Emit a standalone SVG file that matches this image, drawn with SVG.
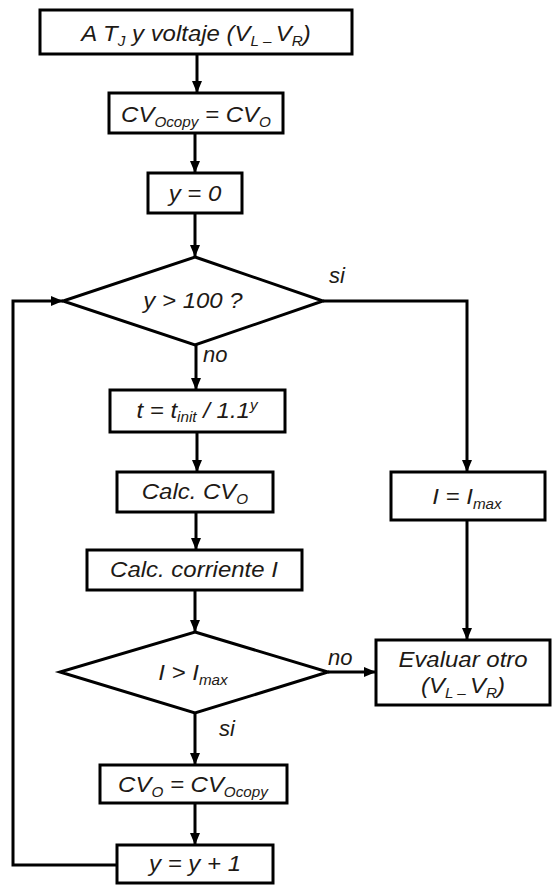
<svg xmlns="http://www.w3.org/2000/svg" width="553" height="886" viewBox="0 0 553 886">
  <style>
    .box { fill: #ffffff; stroke: #000000; stroke-width: 3; }
    .wire { fill: none; stroke: #000000; stroke-width: 3; }
    .lbl { font-family: "Liberation Sans", Arial, sans-serif; font-style: italic; font-size: 22px; fill: #1e1a16; text-anchor: middle; }
    .tag { font-family: "Liberation Sans", Arial, sans-serif; font-style: italic; font-size: 22px; fill: #1e1a16; }
    .sub { font-size: 14px; }
  </style>
  <defs>
    <marker id="arrow" markerUnits="userSpaceOnUse" markerWidth="12" markerHeight="12" viewBox="0 0 12 12" refX="12" refY="6" orient="auto">
      <path d="M0,1 L12,6 L0,11 Z" fill="#000000"/>
    </marker>
  </defs>

  <rect width="553" height="886" fill="#ffffff"/>

  <!-- connectors -->
  <g id="connectors">
    <line class="wire" x1="197" y1="54" x2="197" y2="93" marker-end="url(#arrow)"/>
    <line class="wire" x1="195" y1="133" x2="195" y2="173" marker-end="url(#arrow)"/>
    <line class="wire" x1="195" y1="213" x2="195" y2="257" marker-end="url(#arrow)"/>
    <polyline class="wire" points="323,301 467,301 467,472" marker-end="url(#arrow)"/>
    <line class="wire" x1="196" y1="345" x2="196" y2="390" marker-end="url(#arrow)"/>
    <line class="wire" x1="197" y1="432" x2="197" y2="472" marker-end="url(#arrow)"/>
    <line class="wire" x1="196" y1="512" x2="196" y2="550" marker-end="url(#arrow)"/>
    <line class="wire" x1="195" y1="590" x2="195" y2="632" marker-end="url(#arrow)"/>
    <line class="wire" x1="328" y1="672" x2="376" y2="672" marker-end="url(#arrow)"/>
    <line class="wire" x1="195" y1="713" x2="195" y2="765" marker-end="url(#arrow)"/>
    <line class="wire" x1="195" y1="803" x2="195" y2="845" marker-end="url(#arrow)"/>
    <line class="wire" x1="467" y1="520" x2="467" y2="640" marker-end="url(#arrow)"/>
    <polyline class="wire" points="117,865 13,865 13,301 63,301" marker-end="url(#arrow)"/>
    <text class="tag" x="329" y="283">si</text>
    <text class="tag" x="203" y="362">no</text>
    <text class="tag" x="328" y="665">no</text>
    <text class="tag" x="219" y="736">si</text>
  </g>

  <g id="start">
    <rect class="box" x="40" y="10" width="312" height="44"/>
    <text class="lbl" transform="translate(196 41) scale(1.09 1)">A T<tspan class="sub" dy="5">J</tspan><tspan dy="-5"> y voltaje (V</tspan><tspan class="sub" dy="5">L – </tspan><tspan dy="-5">V</tspan><tspan class="sub" dy="5">R</tspan><tspan dy="-5">)</tspan></text>
  </g>

  <g id="copy-cv">
    <rect class="box" x="109" y="93" width="174" height="40"/>
    <text class="lbl" transform="translate(196 122) scale(1.09 1)">CV<tspan class="sub" dy="5">Ocopy</tspan><tspan dy="-5"> = CV</tspan><tspan class="sub" dy="5">O</tspan></text>
  </g>

  <g id="init-y">
    <rect class="box" x="148" y="173" width="94" height="40"/>
    <text class="lbl" transform="translate(195 201) scale(1.09 1)">y = 0</text>
  </g>

  <g id="check-y">
    <polygon class="box" points="195,257 323,301 195,345 63,301"/>
    <text class="lbl" transform="translate(193 308) scale(1.09 1)">y &gt; 100 ?</text>
  </g>

  <g id="calc-t">
    <rect class="box" x="110" y="390" width="175" height="42"/>
    <text class="lbl" transform="translate(197 418) scale(1.09 1)">t = t<tspan class="sub" dy="4">init</tspan><tspan dy="-4"> / 1.1</tspan><tspan class="sub" dy="-8">y</tspan></text>
  </g>

  <g id="calc-cv">
    <rect class="box" x="117" y="472" width="156" height="40"/>
    <text class="lbl" transform="translate(195 499) scale(1.09 1)">Calc. CV<tspan class="sub" dy="5">O</tspan></text>
  </g>

  <g id="calc-i">
    <rect class="box" x="87" y="550" width="215" height="40"/>
    <text class="lbl" transform="translate(194 577) scale(1.09 1)">Calc. corriente I</text>
  </g>

  <g id="check-i">
    <polygon class="box" points="195,632 328,672 195,713 60,672"/>
    <text class="lbl" transform="translate(193 680) scale(1.09 1)">I &gt; I<tspan class="sub" dy="5">max</tspan></text>
  </g>

  <g id="restore-cv">
    <rect class="box" x="100" y="765" width="187" height="38"/>
    <text class="lbl" transform="translate(193 792) scale(1.09 1)">CV<tspan class="sub" dy="5">O</tspan><tspan dy="-5"> = CV</tspan><tspan class="sub" dy="5">Ocopy</tspan></text>
  </g>

  <g id="inc-y">
    <rect class="box" x="117" y="845" width="156" height="38"/>
    <text class="lbl" transform="translate(195 871) scale(1.09 1)">y = y + 1</text>
  </g>

  <g id="clamp-i">
    <rect class="box" x="391" y="472" width="154" height="48"/>
    <text class="lbl" transform="translate(467 504) scale(1.09 1)">I = I<tspan class="sub" dy="5">max</tspan></text>
  </g>

  <g id="next-v">
    <rect class="box" x="376" y="640" width="174" height="65"/>
    <text class="lbl" transform="translate(463 667) scale(1.09 1)">Evaluar otro</text>
    <text class="lbl" transform="translate(463 693) scale(1.09 1)">(V<tspan class="sub" dy="5">L – </tspan><tspan dy="-5">V</tspan><tspan class="sub" dy="5">R</tspan><tspan dy="-5">)</tspan></text>
  </g>
</svg>
